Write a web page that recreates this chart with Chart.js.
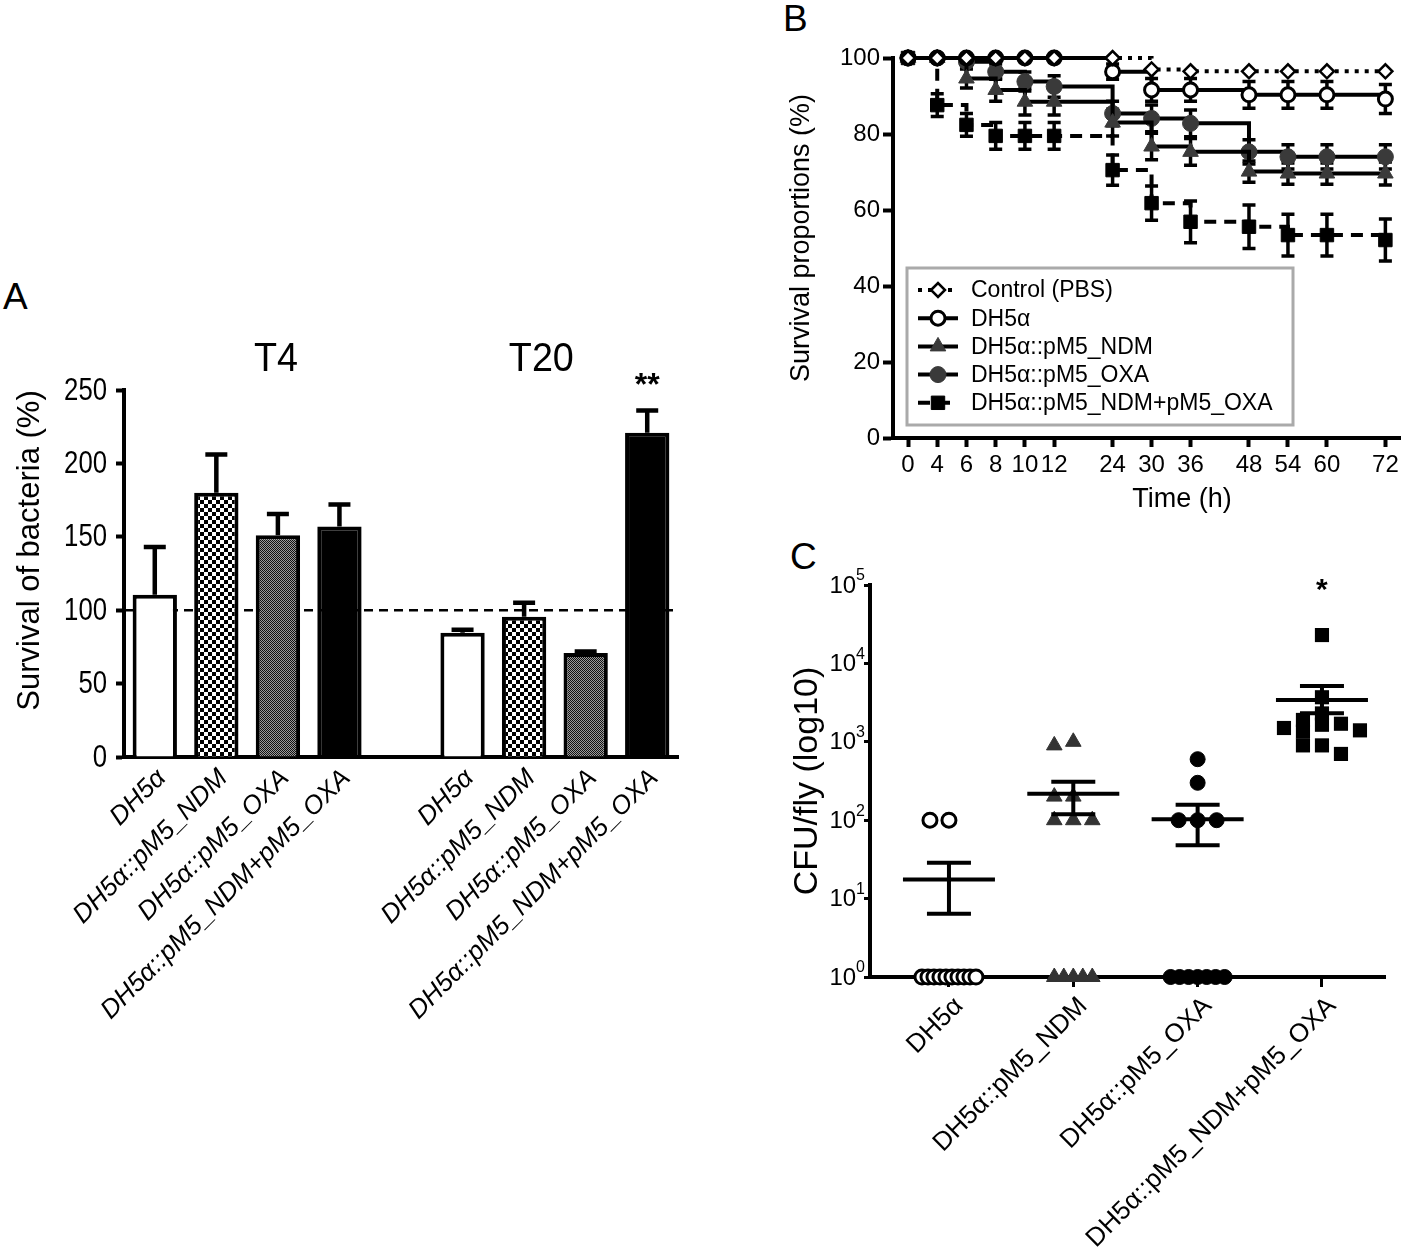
<!DOCTYPE html>
<html><head><meta charset="utf-8">
<script src="https://cdn.jsdelivr.net/npm/chart.js"></script>
<style>
body{margin:0;background:#fff;width:1418px;height:1250px;position:relative;overflow:hidden;font-family:'Liberation Sans',Arial,sans-serif}
.cv{position:absolute}
.lbl{position:absolute;font-size:37px;line-height:1;color:#000}
</style></head><body>
<div class="lbl" style="left:3px;top:278px">A</div>
<div class="lbl" style="left:783px;top:0px">B</div>
<div class="lbl" style="left:790px;top:538px">C</div>
<canvas id="ca" class="cv" width="700" height="720" style="left:0;top:300px;width:700px;height:720px"></canvas>
<canvas id="cb" class="cv" width="638" height="530" style="left:780px;top:0;width:638px;height:530px"></canvas>
<canvas id="cc" class="cv" width="638" height="710" style="left:780px;top:540px;width:638px;height:710px"></canvas>
<script>
// ---------------- DATA ----------------
// Panel A
const groupsA = ['T4', 'T20'];
const catsA = ['DH5α','DH5α::pM5_NDM','DH5α::pM5_OXA','DH5α::pM5_NDM+pM5_OXA','','DH5α','DH5α::pM5_NDM','DH5α::pM5_OXA','DH5α::pM5_NDM+pM5_OXA'];
const survivalA = [110.5, 180, 151, 157, null, 84.6, 95.5, 70.8, 220.8];
const semA = [32.5, 26, 14.5, 15, null, 2.1, 9.5, 1.0, 15.2];
const yTicksA = [0, 50, 100, 150, 200, 250];
const refLineA = 100;
const starsA = '**';

// Panel B
const timesB = [0, 4, 6, 8, 10, 12, 24, 30, 36, 48, 54, 60, 72];
const seriesB = ['Control (PBS)', 'DH5α', 'DH5α::pM5_NDM', 'DH5α::pM5_OXA', 'DH5α::pM5_NDM+pM5_OXA'];
const controlB = [100, 100, 100, 100, 100, 100, 100, 97, 96.5, 96.5, 96.5, 96.5, 96.5];
const dh5aB    = [100, 100, 100, 100, 100, 100, 96.4, 91.6, 91.6, 90.3, 90.3, 90.3, 89.2];
const ndmB     = [100, 100, 94.6, 91.6, 88.5, 88.5, 83, 76.7, 75.3, 70.1, 69.6, 69.6, 69.6];
const oxaB     = [100, 100, 99, 96.4, 93.8, 92.5, 85.4, 84.1, 82.8, 75.3, 74, 74, 74];
const comboB   = [100, 87.6, 82.4, 79.5, 79.5, 79.5, 70.5, 61.8, 56.9, 55.6, 53.4, 53.4, 52.1];
const controlErrB = [0, 0, 0, 0, 0, 0, 0, 0, 0, 0, 0, 0, 0];
const dh5aErrB    = [0, 0, 0, 0, 0, 0, 2, 3, 3, 3.5, 3.5, 3.5, 3.8];
const ndmErrB     = [0, 0, 2.5, 3, 3.5, 3.5, 3.5, 3.5, 3.5, 2.8, 2.8, 2.8, 3];
const oxaErrB     = [0, 0, 1, 2, 2.5, 2.8, 3.2, 3.5, 3.5, 3.2, 3.2, 3.2, 3.2];
const comboErrB   = [0, 3, 3, 3.5, 3.5, 3.5, 4, 4.5, 5.5, 5.7, 5.5, 5.5, 5.5];
const yTicksB = [0, 20, 40, 60, 80, 100];

// Panel C
const catsC = ['DH5α', 'DH5α::pM5_NDM', 'DH5α::pM5_OXA', 'DH5α::pM5_NDM+pM5_OXA'];
const cfuDH5aC  = [100, 100, 1, 1, 1, 1, 1, 1, 1, 1, 1, 1];
const cfuNdmC   = [1000, 900, 200, 200, 100, 100, 100, 1, 1, 1, 1, 1];
const cfuOxaC   = [600, 300, 100, 100, 100, 1, 1, 1, 1, 1, 1, 1];
const cfuComboC = [23000, 3700, 2300, 1900, 1700, 1650, 1500, 1400, 1350, 900, 900, 700];
const meanC    = [17.5, 217, 103, 3420];
const semLowC  = [6.4, 119, 48, 2310];
const semHighC = [28.6, 309, 157, 5160];
const yExpC = [0, 1, 2, 3, 4, 5];
const starsC = ['', '', '', '*'];

// ---------------- SETUP ----------------
const F = "'Liberation Sans', Arial, Helvetica, sans-serif";
Chart.defaults.font.family = F;
Chart.defaults.color = '#000';
Chart.defaults.animation = false;
Chart.defaults.responsive = false;
Chart.defaults.plugins.legend.display = false;
Chart.defaults.plugins.tooltip.enabled = false;

function rotText(ctx, txt, x, y, font) {
  ctx.save(); ctx.translate(x, y); ctx.rotate(-Math.PI / 2);
  ctx.font = font; ctx.fillStyle = '#000'; ctx.textAlign = 'center'; ctx.textBaseline = 'middle';
  ctx.fillText(txt, 0, 0); ctx.restore();
}
function text(ctx, txt, x, y, font, sx, align) {
  ctx.save(); ctx.translate(x, y); ctx.scale(sx || 1, 1);
  ctx.font = font; ctx.fillStyle = '#000'; ctx.textAlign = align || 'center'; ctx.textBaseline = 'middle';
  ctx.fillText(txt, 0, 0); ctx.restore();
}
function pattern(ctx, cell, c1, c2) {
  const cv = document.createElement('canvas'); cv.width = cv.height = cell * 2;
  const x = cv.getContext('2d');
  x.fillStyle = c1; x.fillRect(0, 0, cell * 2, cell * 2);
  x.fillStyle = c2; x.fillRect(0, 0, cell, cell); x.fillRect(cell, cell, cell, cell);
  return ctx.createPattern(cv, 'repeat');
}

// ---------------- PANEL A ----------------
const ctxA = document.getElementById('ca').getContext('2d');
const fillKinds = ['#ffffff', pattern(ctxA, 4, '#ffffff', '#000000'), pattern(ctxA, 1, '#9a9a9a', '#111111'), '#000000'];
const fillsA = catsA.map((c, i) => fillKinds[i % 5] || '#ffffff');

const plugA = {
  id: 'plugA',
  beforeDatasetsDraw(c) {
    const {ctx, chartArea: ca, scales: {y}} = c;
    const yy = y.getPixelForValue(refLineA);
    ctx.save(); ctx.setLineDash([9, 6]); ctx.lineWidth = 2.5; ctx.strokeStyle = '#000';
    ctx.beginPath(); ctx.moveTo(ca.left, yy); ctx.lineTo(ca.right, yy); ctx.stroke(); ctx.restore();
  },
  afterDatasetsDraw(c) {
    const {ctx, chartArea: ca, scales: {x, y}} = c;
    ctx.save(); ctx.strokeStyle = '#000'; ctx.lineWidth = 4.5; ctx.lineCap = 'butt';
    survivalA.forEach((v, i) => {
      if (v == null) return;
      const xp = x.getPixelForValue(i), y0 = y.getPixelForValue(v), y1 = y.getPixelForValue(v + semA[i]);
      ctx.beginPath(); ctx.moveTo(xp, y0); ctx.lineTo(xp, y1);
      ctx.moveTo(xp - 11, y1); ctx.lineTo(xp + 11, y1); ctx.stroke();
    });
    ctx.restore();
    // condensed y tick labels
    y.ticks.forEach(t => text(ctx, String(t.value), ca.left - 17, y.getPixelForValue(t.value) + 1, '31px ' + F, 0.83, 'right'));
    rotText(ctx, 'Survival of bacteria (%)', ca.left - 94, (ca.top + ca.bottom) / 2 - 23, '31px ' + F);
    text(ctx, groupsA[0], x.getPixelForValue(1.97), ca.top - 30, '41px ' + F, 0.92);
    text(ctx, groupsA[1], x.getPixelForValue(6.28), ca.top - 30, '41px ' + F, 0.92);
    text(ctx, starsA, x.getPixelForValue(8), ca.top - 4, 'bold 32px ' + F);
  }
};

new Chart(ctxA, {
  type: 'bar',
  data: {labels: catsA, datasets: [{data: survivalA, backgroundColor: fillsA, borderColor: '#000', borderWidth: 4,
    barPercentage: 0.72, categoryPercentage: 1}]},
  options: {
    layout: {padding: {top: 90, right: 22, left: 0, bottom: 0}},
    scales: {
      x: {ticks: {font: {size: 26, style: 'italic'}, maxRotation: 45, minRotation: 45, autoSkip: false, padding: 6, labelOffset: 7, color: '#000'},
          grid: {display: true, drawOnChartArea: false, drawTicks: false}, border: {width: 4, color: '#000'},
          afterFit: s => { s.height = 263; }},
      y: {min: 0, max: 250, afterBuildTicks: s => { s.ticks = yTicksA.map(v => ({value: v})); },
          ticks: {display: false},
          grid: {drawOnChartArea: false, drawTicks: true, tickLength: 8, tickWidth: 4, tickColor: '#000'},
          border: {width: 4, color: '#000'}, afterFit: s => { s.width = 124; }}
    }
  },
  plugins: [plugA]
});

// ---------------- PANEL B ----------------
class SegmentedScale extends Chart.LinearScale {
  determineDataLimits() { const h = this.options.slotHours; this.min = h[0]; this.max = h[h.length - 1]; }
  buildTicks() { return this.options.slotHours.map(v => ({value: v})); }
  _slot(v) {
    const h = this.options.slotHours, s = this.options.slotPos, n = h.length - 1;
    if (v <= h[0]) return s[0] + (v - h[0]) * (s[1] - s[0]) / (h[1] - h[0]);
    for (let i = 1; i <= n; i++) if (v <= h[i]) return s[i - 1] + (v - h[i - 1]) * (s[i] - s[i - 1]) / (h[i] - h[i - 1]);
    return s[n] + (v - h[n]) * (s[n] - s[n - 1]) / (h[n] - h[n - 1]);
  }
  getPixelForValue(v) { const o = this.options; return this.getPixelForDecimal((this._slot(v) - o.slotMin) / (o.slotMax - o.slotMin)); }
}
SegmentedScale.id = 'segmented';
SegmentedScale.defaults = {};
Chart.register(SegmentedScale);

const valuesB = [controlB, dh5aB, ndmB, oxaB, comboB];
const errsB = [controlErrB, dh5aErrB, ndmErrB, oxaErrB, comboErrB];
const styleB = [
  {pointStyle: 'rectRot', pointRadius: 7, pointBackgroundColor: '#fff', pointBorderColor: '#000', pointBorderWidth: 2.5, borderDash: [4, 6]},
  {pointStyle: 'circle', pointRadius: 7, pointBackgroundColor: '#fff', pointBorderColor: '#000', pointBorderWidth: 3, borderDash: []},
  {pointStyle: 'triangle', pointRadius: 9, pointBackgroundColor: '#3a3a3a', pointBorderColor: '#3a3a3a', pointBorderWidth: 1, borderDash: []},
  {pointStyle: 'circle', pointRadius: 8, pointBackgroundColor: '#3a3a3a', pointBorderColor: '#3a3a3a', pointBorderWidth: 1, borderDash: []},
  {pointStyle: 'rect', pointRadius: 9.5, pointBackgroundColor: '#000', pointBorderColor: '#000', pointBorderWidth: 1, borderDash: [12, 8]}
];
const dsB = seriesB.map((name, k) => Object.assign({
  label: name, data: timesB.map((t, i) => ({x: t, y: valuesB[k][i]})), errs: errsB[k],
  borderColor: '#000', borderWidth: 4, stepped: 'before', fill: false, clip: false
}, styleB[k]));

const plugB = {
  id: 'plugB',
  beforeDatasetsDraw(c) {
    const {ctx, scales: {x, y}} = c;
    ctx.save(); ctx.strokeStyle = '#000'; ctx.lineWidth = 3.5; ctx.setLineDash([]);
    c.data.datasets.forEach(ds => {
      ds.data.forEach((p, i) => {
        const e = ds.errs[i]; if (!e) return;
        const xp = x.getPixelForValue(p.x), y1 = y.getPixelForValue(p.y + e), y2 = y.getPixelForValue(p.y - e);
        ctx.beginPath(); ctx.moveTo(xp, y1); ctx.lineTo(xp, y2);
        ctx.moveTo(xp - 6.5, y1); ctx.lineTo(xp + 6.5, y1); ctx.moveTo(xp - 6.5, y2); ctx.lineTo(xp + 6.5, y2); ctx.stroke();
      });
    });
    ctx.restore();
  },
  afterDraw(c) {
    const {ctx, chartArea: ca} = c;
    rotText(ctx, 'Survival proportions (%)', ca.left - 91, (ca.top + ca.bottom) / 2 - 10, '27px ' + F);
    text(ctx, 'Time (h)', ca.left + 289, ca.bottom + 62, '27px ' + F);
    // legend
    const bx = ca.left + 14, by = ca.bottom - 170, bw = 386, bh = 157;
    ctx.save();
    ctx.fillStyle = '#fff'; ctx.fillRect(bx, by, bw, bh);
    ctx.strokeStyle = '#aaaaaa'; ctx.lineWidth = 3; ctx.strokeRect(bx, by, bw, bh);
    c.data.datasets.forEach((ds, i) => {
      const yy = by + 22 + i * 28.2;
      ctx.strokeStyle = '#000'; ctx.lineWidth = 4; ctx.setLineDash(ds.borderDash || []);
      ctx.beginPath(); ctx.moveTo(bx + 11, yy); ctx.lineTo(bx + 51, yy); ctx.stroke(); ctx.setLineDash([]);
      ctx.fillStyle = ds.pointBackgroundColor; ctx.strokeStyle = ds.pointBorderColor; ctx.lineWidth = ds.pointBorderWidth;
      Chart.helpers.drawPoint(ctx, {pointStyle: ds.pointStyle, radius: ds.pointRadius, rotation: 0, borderWidth: ds.pointBorderWidth}, bx + 31, yy);
      ctx.fillStyle = '#000'; ctx.font = '23px ' + F; ctx.textAlign = 'left'; ctx.textBaseline = 'middle';
      ctx.fillText(ds.label, bx + 64, yy + 1);
    });
    ctx.restore();
  }
};

new Chart(document.getElementById('cb').getContext('2d'), {
  type: 'line',
  data: {datasets: dsB},
  options: {
    layout: {padding: {top: 58, right: 18, left: 0, bottom: 0}},
    scales: {
      x: {type: 'segmented', slotHours: timesB, slotPos: [0, 3, 6, 9, 12, 15, 21, 25, 29, 35, 39, 43, 49], slotMin: -1.54, slotMax: 50.5,
          ticks: {font: {size: 24}, padding: 4, color: '#000', autoSkip: false, maxRotation: 0, callback: v => String(v)},
          grid: {drawOnChartArea: false, drawTicks: true, tickLength: 9, tickWidth: 4, tickColor: '#000'},
          border: {width: 4, color: '#000'}, afterFit: s => { s.height = 92; }},
      y: {min: 0, max: 100, afterBuildTicks: s => { s.ticks = yTicksB.map(v => ({value: v})); },
          ticks: {font: {size: 24}, padding: 3, color: '#000'},
          grid: {drawOnChartArea: false, drawTicks: true, tickLength: 10, tickWidth: 4, tickColor: '#000'},
          border: {width: 4, color: '#000'}, afterFit: s => { s.width = 113; }}
    }
  },
  plugins: [plugB]
});

// ---------------- PANEL C ----------------
const valuesC = [cfuDH5aC, cfuNdmC, cfuOxaC, cfuComboC];
const styleC = [
  {pointStyle: 'circle', pointRadius: 7, pointBackgroundColor: '#fff', pointBorderColor: '#000', pointBorderWidth: 3},
  {pointStyle: 'triangle', pointRadius: 9, pointBackgroundColor: '#333', pointBorderColor: '#333', pointBorderWidth: 1},
  {pointStyle: 'circle', pointRadius: 7.5, pointBackgroundColor: '#000', pointBorderColor: '#000', pointBorderWidth: 1},
  {pointStyle: 'rect', pointRadius: 10, pointBackgroundColor: '#000', pointBorderColor: '#000', pointBorderWidth: 0}
];
const dsC = catsC.map((cat, k) => Object.assign({
  label: cat, data: valuesC[k].map(v => ({x: cat, y: v})), clip: false
}, styleC[k]));
const SUP = ['0', '1', '2', '3', '4', '5'];

const plugC = {
  id: 'plugC',
  afterDatasetsUpdate(c) {
    c.data.datasets.forEach((ds, di) => {
      const meta = c.getDatasetMeta(di);
      const vals = ds.data.map(d => d.y);
      const counts = {}; vals.forEach(v => counts[v] = (counts[v] || 0) + 1);
      const seen = {}; const placed = [];
      meta.data.forEach((el, i) => {
        const v = vals[i], n = counts[v];
        let off;
        if (n >= 4) {
          const sp = Math.min(9.5, 54 / (n - 1));
          const k = seen[v] = (seen[v] === undefined ? 0 : seen[v] + 1);
          off = (k - (n - 1) / 2) * sp;
        } else {
          const cands = [0]; for (let k = 1; k < 10; k++) cands.push(-k * 9.5, k * 9.5);
          off = cands.find(cx => placed.every(p => Math.abs(p.x - cx) >= 11 || Math.abs(p.y - el.y) >= 11));
        }
        placed.push({x: off, y: el.y});
        el.x += off;
      });
    });
  },
  afterDatasetsDraw(c) {
    const {ctx, chartArea: ca, scales: {x, y}} = c;
    ctx.save(); ctx.strokeStyle = '#000'; ctx.lineWidth = 4;
    meanC.forEach((m, i) => {
      const xp = x.getPixelForValue(i), ym = y.getPixelForValue(m), yl = y.getPixelForValue(semLowC[i]), yh = y.getPixelForValue(semHighC[i]);
      ctx.beginPath();
      ctx.moveTo(xp - 46, ym); ctx.lineTo(xp + 46, ym);
      ctx.moveTo(xp, yl); ctx.lineTo(xp, yh);
      ctx.moveTo(xp - 22, yl); ctx.lineTo(xp + 22, yl);
      ctx.moveTo(xp - 22, yh); ctx.lineTo(xp + 22, yh);
      ctx.stroke();
      if (starsC[i]) text(ctx, starsC[i], xp, ca.top + 6, 'bold 30px ' + F);
    });
    ctx.restore();
    // y tick labels 10^n with real superscripts
    ctx.save(); ctx.fillStyle = '#000'; ctx.textBaseline = 'middle'; ctx.textAlign = 'left';
    y.ticks.forEach(t => {
      const yp = y.getPixelForValue(t.value);
      const e = SUP[Math.round(Math.log10(t.value))];
      ctx.font = '16px ' + F; const ws = ctx.measureText(e).width;
      ctx.font = '24px ' + F; const wb = ctx.measureText('10').width;
      const x0 = ca.left - 5 - ws - wb;
      ctx.fillText('10', x0, yp + 1);
      ctx.font = '16px ' + F; ctx.fillText(e, x0 + wb, yp - 9);
    });
    ctx.restore();
    rotText(ctx, 'CFU/fly (log10)', ca.left - 62, (ca.top + ca.bottom) / 2, '34px ' + F);
  }
};

new Chart(document.getElementById('cc').getContext('2d'), {
  type: 'scatter',
  data: {labels: catsC, datasets: dsC},
  options: {
    layout: {padding: {top: 45, right: 33, left: 0, bottom: 0}},
    scales: {
      x: {type: 'category', labels: catsC, offset: true,
          afterBuildTicks: s => { s._startValue = -0.635; s._valueRange = 4.142; },
          ticks: {font: {size: 26}, maxRotation: 45, minRotation: 45, autoSkip: false, padding: 4, labelOffset: 10, color: '#000'},
          grid: {drawOnChartArea: false, drawTicks: true, tickLength: 10, tickWidth: 3, tickColor: '#000', offset: false},
          border: {width: 4, color: '#000'}, afterFit: s => { s.height = 273; }},
      y: {type: 'logarithmic', min: 1, max: 100000,
          afterBuildTicks: s => { s.ticks = yExpC.map(e => ({value: Math.pow(10, e)})); },
          ticks: {display: false},
          grid: {drawOnChartArea: false, drawTicks: true, tickLength: 6, tickWidth: 3, tickColor: '#000'},
          border: {width: 4, color: '#000'}, afterFit: s => { s.width = 90; }}
    }
  },
  plugins: [plugC]
});
</script>
</body></html>
